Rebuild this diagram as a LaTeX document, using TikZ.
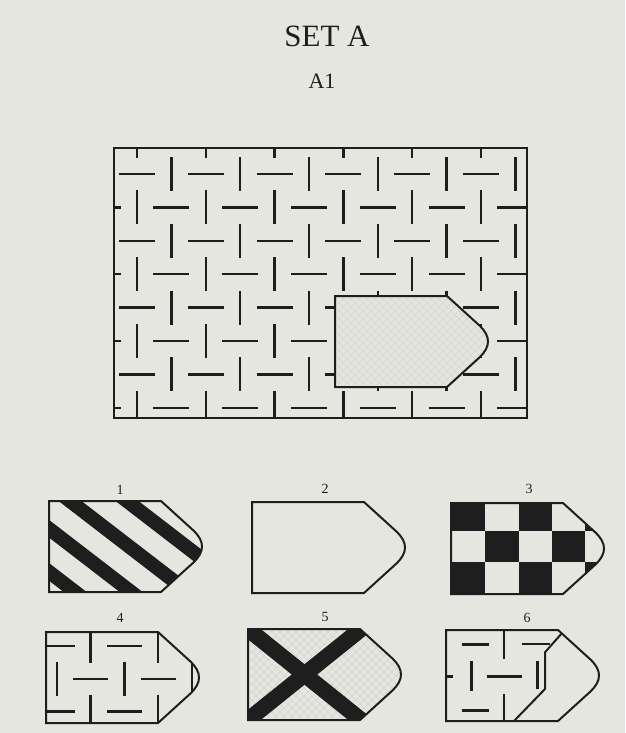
\documentclass[tikz,border=0pt]{standalone}
\usepackage{fontspec}
\setmainfont{Liberation Serif}
\definecolor{paper}{RGB}{230,230,224}
\definecolor{ink}{RGB}{30,30,30}
\definecolor{hatchc}{RGB}{214,214,208}
\def\piecepath{(0,0) -- (112,0) -- (145,30) .. controls (150,35) and (153,40) .. (153,45.5) .. controls (153,51) and (150,56) .. (145,61) -- (112,91) -- (0,91) -- cycle}
\tikzset{
  outline/.style={draw=ink, line width=2pt, line join=miter},
  stroke/.style={draw=ink, line width=2.5pt},
  band/.style={draw=ink, line width=14pt},
  hatchline/.style={draw=hatchc, line width=0.6pt},
  lab/.style={font=\fontsize{14}{14}\selectfont, text=ink, anchor=base, inner sep=0pt}
}
\begin{document}
\begin{tikzpicture}[x=1pt,y=-1pt]
\useasboundingbox (0,0) rectangle (625,733);
\fill[paper] (0,0) rectangle (625,733);

% titles
\node[font=\fontsize{31}{31}\selectfont, text=ink, anchor=base, inner sep=0pt] (settitle) at (327,47) {SET A};
\node[font=\fontsize{22}{22}\selectfont, text=ink, anchor=base, inner sep=0pt] (itemtitle) at (322,89) {A1};

% main pattern
\begin{scope}
\clip (114,148) rectangle (527,418);
\foreach \r in {0,...,9}{
  \foreach \k in {-1,...,12}{
    \pgfmathsetmacro{\xx}{137+34.4*\k}
    \pgfmathsetmacro{\yy}{174+33.4*(\r-1)}
    \pgfmathtruncatemacro{\parity}{mod(\r+\k+20,2)}
    \ifnum\parity=1
      \draw[stroke] (\xx-18,\yy) -- (\xx+18,\yy);
    \else
      \draw[stroke] (\xx,\yy-17) -- (\xx,\yy+17);
    \fi
  }
}
\end{scope}
\draw[outline] (114,148) rectangle (527,418);

% missing piece
\begin{scope}[shift={(335,296)}]
\fill[paper] \piecepath;
\begin{scope}
\clip \piecepath;
\foreach \i in {-14,...,34}{
  \draw[hatchline] (\i*8,-5) -- ++(120,120);
  \draw[hatchline] (\i*8,-5) -- ++(-120,120);
}
\end{scope}
\draw[outline] \piecepath;
\end{scope}

% option labels
\node[lab] (l1) at (120,494) {1};
\node[lab] (l2) at (325,493) {2};
\node[lab] (l3) at (529,493) {3};
\node[lab] (l4) at (120,622) {4};
\node[lab] (l5) at (325,621) {5};
\node[lab] (l6) at (527,622) {6};

% option 1: stripes
\begin{scope}[shift={(49,501)}]
\begin{scope}
\clip \piecepath;
\foreach \x in {-92,-36,21,78}{
  \draw[band] (\x-20,-15.4) -- (\x+220,169.4);
}
\end{scope}
\draw[outline] \piecepath;
\end{scope}

% option 2: blank
\begin{scope}[shift={(252,502)}]
\draw[outline] \piecepath;
\end{scope}

% option 3: checkerboard
\begin{scope}[shift={(451,503)}]
\begin{scope}
\clip \piecepath;
\fill[ink] (0,0) rectangle (34,28);
\fill[ink] (68,0) rectangle (101,28);
\fill[ink] (134,0) rectangle (168,28);
\fill[ink] (34,28) rectangle (68,59);
\fill[ink] (101,28) rectangle (134,59);
\fill[ink] (0,59) rectangle (34,92);
\fill[ink] (68,59) rectangle (101,92);
\fill[ink] (134,59) rectangle (168,92);
\end{scope}
\draw[outline] \piecepath;
\end{scope}

% option 4: correct pattern
\begin{scope}[shift={(46,632)}]
\begin{scope}
\clip \piecepath;
\foreach \r in {1,2,3}{
  \foreach \k in {0,...,4}{
    \pgfmathsetmacro{\xx}{11+33.7*\k}
    \pgfmathsetmacro{\yy}{14+32.8*(\r-1)}
    \pgfmathtruncatemacro{\parity}{mod(\r+\k,2)}
    \ifnum\parity=1
      \draw[stroke] (\xx-17.5,\yy) -- (\xx+17.5,\yy);
    \else
      \draw[stroke] (\xx,\yy-17) -- (\xx,\yy+17);
    \fi
  }
}
\end{scope}
\draw[outline] \piecepath;
\end{scope}

% option 5: cross
\begin{scope}[shift={(248,629)}]
\fill[paper] \piecepath;
\begin{scope}
\clip \piecepath;
\foreach \i in {-14,...,34}{
  \draw[hatchline] (\i*8,-5) -- ++(120,120);
  \draw[hatchline] (\i*8,-5) -- ++(-120,120);
}
\draw[ink, line width=16pt] (-20,-16) -- (133,107);
\draw[ink, line width=16pt] (133,-16) -- (-20,107);
\end{scope}
\draw[outline] \piecepath;
\end{scope}

% option 6: wrong overlap
\begin{scope}[shift={(446,630)}]
\begin{scope}
\clip \piecepath;
\draw[stroke] (15.7,14.7) -- (43.3,14.7);
\draw[stroke] (58,0) -- (58,29);
\draw[stroke] (75.7,14) -- (104,14);
\draw[stroke] (0,46.3) -- (6.7,46.3);
\draw[stroke] (25.7,31.3) -- (25.7,60.7);
\draw[stroke] (41.3,46.3) -- (75.7,46.3);
\draw[stroke] (91.3,30.7) -- (91.3,59);
\draw[stroke] (15.7,80.7) -- (43.3,80.7);
\draw[stroke] (58,64) -- (58,91);
\draw[outline] (115.7,3.4) -- (99,22.3) -- (99,59) -- (68,91);
\end{scope}
\draw[outline] \piecepath;
\end{scope}
\end{tikzpicture}
\end{document}
